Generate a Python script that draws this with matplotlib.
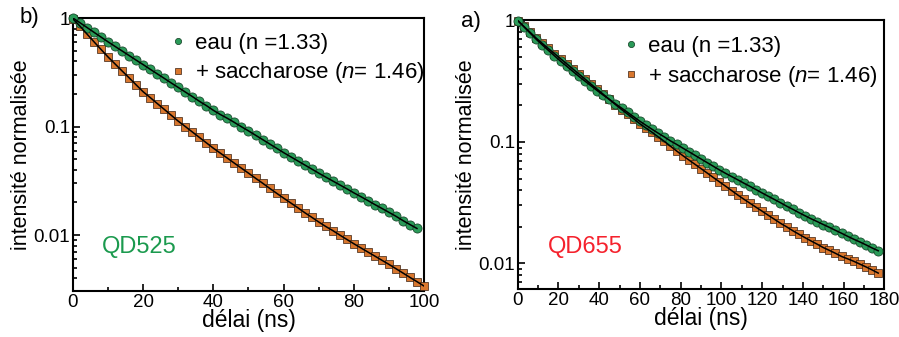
import matplotlib
matplotlib.use("Agg")
import matplotlib.pyplot as plt
from matplotlib.ticker import FixedLocator, FixedFormatter, MultipleLocator, LogLocator, NullFormatter
from matplotlib.lines import Line2D

plt.rcParams['font.family'] = ['Liberation Sans', 'DejaVu Sans']
plt.rcParams['mathtext.fontset'] = 'custom'
plt.rcParams['mathtext.rm'] = 'Liberation Sans'
plt.rcParams['mathtext.it'] = 'Liberation Sans:italic'

# ---------------- data ----------------
# panel b) QD525
t_b_eau = list(range(0, 100, 2))
i_b_eau = [1.0, 0.904, 0.817, 0.738, 0.667, 0.603, 0.547, 0.497, 0.451, 0.409,
           0.372, 0.337, 0.306, 0.278, 0.252, 0.229, 0.208, 0.189, 0.171, 0.156,
           0.141, 0.129, 0.119, 0.109, 0.0995, 0.0912, 0.0832, 0.0759, 0.0692, 0.0631,
           0.0575, 0.0527, 0.0483, 0.0443, 0.0406, 0.0372, 0.0342, 0.0315, 0.0290, 0.0267,
           0.0245, 0.0226, 0.0208, 0.0191, 0.0176, 0.0162, 0.0149, 0.0136, 0.0125, 0.0115]
t_b_sac = list(range(0, 102, 2))
i_b_sac = [0.98, 0.841, 0.711, 0.603, 0.513, 0.437, 0.377, 0.325, 0.281, 0.242,
           0.209, 0.185, 0.163, 0.144, 0.127, 0.112, 0.100, 0.0891, 0.0794, 0.0708,
           0.0631, 0.0568, 0.0511, 0.0459, 0.0413, 0.0372, 0.0334, 0.0301, 0.0270, 0.0243,
           0.0219, 0.0198, 0.0179, 0.0161, 0.0146, 0.0132, 0.0120, 0.0110, 0.0100, 0.00912,
           0.00832, 0.00762, 0.00698, 0.00640, 0.00586, 0.00537, 0.00490, 0.00447, 0.00407, 0.00372,
           0.00339]

# panel a) QD655
t_a_eau = list(range(0, 180, 3))
i_a_eau = [1.0, 0.889, 0.791, 0.703, 0.631, 0.569, 0.513, 0.463, 0.421, 0.382,
           0.347, 0.317, 0.290, 0.265, 0.243, 0.224, 0.206, 0.190, 0.175, 0.161,
           0.148, 0.137, 0.127, 0.118, 0.110, 0.102, 0.0955, 0.0891, 0.0832, 0.0776,
           0.0724, 0.0676, 0.0631, 0.0589, 0.0552, 0.0519, 0.0488, 0.0458, 0.0431, 0.0405,
           0.0380, 0.0357, 0.0336, 0.0316, 0.0296, 0.0279, 0.0262, 0.0247, 0.0233, 0.0221,
           0.0209, 0.0198, 0.0187, 0.0177, 0.0167, 0.0158, 0.0150, 0.0142, 0.0134, 0.0127]
t_a_sac = list(range(0, 180, 3))
i_a_sac = [1.0, 0.895, 0.802, 0.718, 0.649, 0.589, 0.535, 0.485, 0.441, 0.400,
           0.363, 0.330, 0.299, 0.272, 0.247, 0.224, 0.203, 0.185, 0.169, 0.155,
           0.141, 0.130, 0.120, 0.110, 0.101, 0.0923, 0.0843, 0.0773, 0.0711, 0.0655,
           0.0603, 0.0555, 0.0510, 0.0470, 0.0433, 0.0398, 0.0366, 0.0338, 0.0313, 0.0290,
           0.0269, 0.0249, 0.0231, 0.0214, 0.0200, 0.0186, 0.0174, 0.0163, 0.0153, 0.0144,
           0.0135, 0.0128, 0.0121, 0.0114, 0.0109, 0.0104, 0.00986, 0.00935, 0.00883, 0.00832]

label_eau = "eau (n =1.33)"
label_sac = "+ saccharose ($\\it{n}$= 1.46)"
xlabel = "délai (ns)"
ylabel = "intensité normalisée"

GREEN = '#2a9a58'
ORANGE = '#d9772e'

fig = plt.figure(figsize=(8.99, 3.37), dpi=100)
axb = fig.add_axes([0.0812, 0.1365, 0.3904, 0.810])
axa = fig.add_axes([0.5759, 0.1424, 0.4078, 0.7982])


def style(ax, xmax, ylow, yhigh):
    ax.set_yscale('log')
    ax.set_xlim(0, xmax)
    ax.set_ylim(ylow, yhigh)
    ax.xaxis.set_major_locator(MultipleLocator(20))
    ax.xaxis.set_minor_locator(MultipleLocator(10))
    ax.yaxis.set_major_locator(FixedLocator([0.01, 0.1, 1]))
    ax.yaxis.set_major_formatter(FixedFormatter(['0.01', '0.1', '1']))
    ax.yaxis.set_minor_locator(LogLocator(base=10, subs=range(2, 10)))
    ax.yaxis.set_minor_formatter(NullFormatter())
    ax.tick_params(which='both', direction='in', top=False, right=False, labelsize=13.5, width=1.2)
    ax.tick_params(which='major', length=5, pad=2)
    ax.tick_params(which='minor', length=3)
    for s in ax.spines.values():
        s.set_linewidth(1.5)
    ax.set_xlabel(xlabel, fontsize=16.5, labelpad=-1)
    ax.set_ylabel(ylabel, fontsize=15.5, labelpad=1)


def draw(ax, t1, i1, t2, i2, anchor):
    ax.plot(t2, i2, ls='none', marker='s', ms=5.8, mfc=ORANGE, mec='#3a2010', mew=0.5, clip_on=False, zorder=3)
    ax.plot(t1, i1, ls='none', marker='o', ms=6.6, mfc=GREEN, mec='#103a20', mew=0.5, clip_on=False, zorder=4)
    ax.plot(t2, i2, color='black', lw=1.1, zorder=5)
    ax.plot(t1, i1, color='black', lw=1.1, zorder=5)
    handles = [Line2D([], [], ls='none', marker='o', ms=4.5, mfc=GREEN, mec='#103a20', mew=0.5),
               Line2D([], [], ls='none', marker='s', ms=4.5, mfc=ORANGE, mec='#3a2010', mew=0.5)]
    ax.legend(handles, [label_eau, label_sac], loc='upper right', bbox_to_anchor=anchor,
              frameon=False, fontsize=16, handletextpad=0.35, labelspacing=0.3,
              handlelength=0.8, borderpad=0.0, borderaxespad=0.0)


draw(axb, t_b_eau, i_b_eau, t_b_sac, i_b_sac, (1.0, 0.946))
style(axb, 100, 0.00305, 1.0)
axb.text(0.083, 0.161, 'QD525', transform=axb.transAxes, color='#1b9a4e', fontsize=17, va='center')

draw(axa, t_a_eau, i_a_eau, t_a_sac, i_a_sac, (0.98, 0.94))
style(axa, 180, 0.00615, 1.01)
axa.text(0.082, 0.156, 'QD655', transform=axa.transAxes, color='#f5222d', fontsize=17, va='center')

fig.text(20 / 899, 1 - 17 / 337, 'b)', fontsize=16, va='center', ha='left')
fig.text(461 / 899, 1 - 22 / 337, 'a)', fontsize=16, va='center', ha='left')

fig.savefig('out.png', dpi=100)
